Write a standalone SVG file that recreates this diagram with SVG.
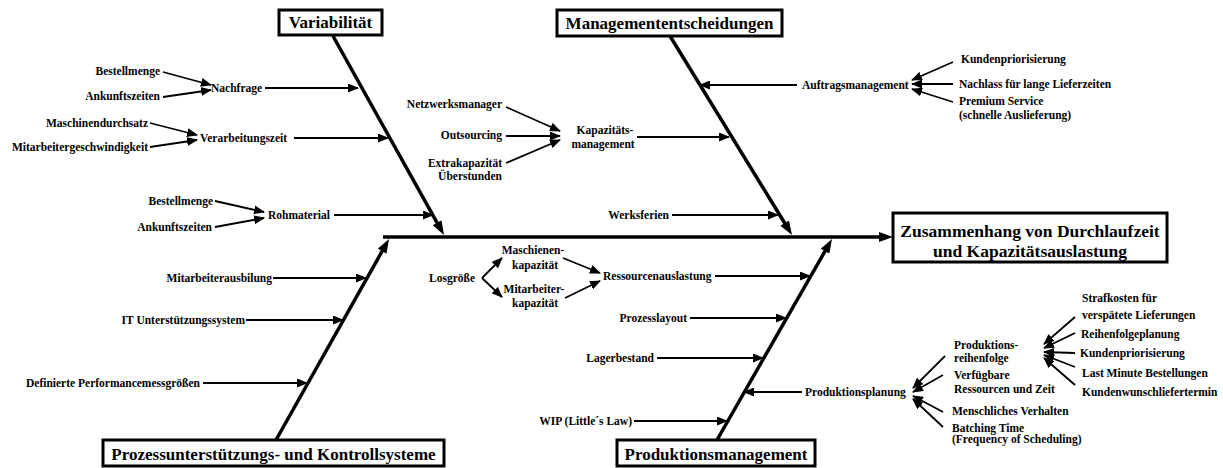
<svg xmlns="http://www.w3.org/2000/svg" width="1223" height="468" viewBox="0 0 1223 468" font-family="'Liberation Serif', 'Times New Roman', serif" font-weight="bold">
  <style>
    text { font-family: 'Liberation Serif', 'Times New Roman', serif; font-weight: bold; fill: #000; }
    .lbl { font-size: 11.5px; }
    .head { font-size: 17px; }
    .effect { font-size: 17.5px; }
    .box { fill: #fff; stroke: #000; stroke-width: 3; }
    .bone { stroke: #000; stroke-width: 3.5; fill: none; marker-end: url(#bigArrow); }
    .arr { stroke: #000; stroke-width: 1.8; fill: none; marker-end: url(#smallArrow); }
    .mid { text-anchor: middle; }
    .end { text-anchor: end; }
  </style>
  <defs>
    <marker id="bigArrow" viewBox="0 0 14 10" refX="4" refY="5" markerWidth="14" markerHeight="10" orient="auto" markerUnits="userSpaceOnUse">
      <path d="M0,0 L14,5 L0,10 z" fill="#000"/>
    </marker>
    <marker id="smallArrow" viewBox="0 0 11 9" refX="10" refY="4.5" markerWidth="11" markerHeight="9" orient="auto" markerUnits="userSpaceOnUse">
      <path d="M0,0 L11,4.5 L0,9 z" fill="#000"/>
    </marker>
  </defs>

  <rect x="0" y="0" width="1223" height="468" fill="#fff"/>

  <!-- spine and main bones -->
  <g id="connectors">
    <line class="bone" x1="383" y1="237" x2="883" y2="237"/>
    <line class="bone" x1="333" y1="36" x2="439.1" y2="226.3"/>
    <line class="bone" x1="670" y1="36" x2="786.8" y2="226.5"/>
    <line class="bone" x1="276" y1="440" x2="384.1" y2="247.7"/>
    <line class="bone" x1="717" y1="440" x2="827" y2="247.7"/>

    <!-- Variabilität branches -->
    <line class="arr" x1="265" y1="88" x2="358" y2="88"/>
    <line class="arr" x1="163" y1="72" x2="211" y2="85"/>
    <line class="arr" x1="163" y1="97" x2="211" y2="90"/>
    <line class="arr" x1="294" y1="138" x2="388" y2="138"/>
    <line class="arr" x1="150" y1="123" x2="197" y2="135"/>
    <line class="arr" x1="150" y1="147" x2="197" y2="140"/>
    <line class="arr" x1="334" y1="215" x2="433" y2="215"/>
    <line class="arr" x1="215" y1="201" x2="264" y2="212"/>
    <line class="arr" x1="215" y1="227" x2="264" y2="218"/>

    <!-- Managemententscheidungen branches -->
    <line class="arr" x1="797" y1="85" x2="700" y2="85"/>
    <line class="arr" x1="953" y1="62" x2="912" y2="80"/>
    <line class="arr" x1="953" y1="84" x2="912" y2="84"/>
    <line class="arr" x1="953" y1="102" x2="912" y2="89"/>
    <line class="arr" x1="637" y1="137" x2="729" y2="137"/>
    <line class="arr" x1="506" y1="107" x2="560" y2="131"/>
    <line class="arr" x1="506" y1="136" x2="560" y2="136"/>
    <line class="arr" x1="506" y1="163" x2="560" y2="140"/>
    <line class="arr" x1="672" y1="215" x2="778" y2="215"/>

    <!-- Prozessunterstützung branches -->
    <line class="arr" x1="273" y1="278" x2="366" y2="278"/>
    <line class="arr" x1="246" y1="320" x2="343" y2="320"/>
    <line class="arr" x1="203" y1="383" x2="307" y2="383"/>

    <!-- Produktionsmanagement branches -->
    <line class="arr" x1="715" y1="276" x2="810" y2="276"/>
    <line class="arr" x1="690" y1="318" x2="786" y2="318"/>
    <line class="arr" x1="657" y1="358" x2="763" y2="358"/>
    <line class="arr" x1="802" y1="392" x2="744" y2="392"/>
    <line class="arr" x1="634" y1="421" x2="727" y2="421"/>
    <line class="arr" x1="482" y1="278" x2="502" y2="258"/>
    <line class="arr" x1="482" y1="278" x2="502" y2="297"/>
    <line class="arr" x1="563" y1="258" x2="600" y2="273"/>
    <line class="arr" x1="565" y1="298" x2="600" y2="281"/>

    <!-- Produktionsplanung sub-branches -->
    <line class="arr" x1="945" y1="356" x2="913" y2="388"/>
    <line class="arr" x1="943" y1="375" x2="913" y2="392"/>
    <line class="arr" x1="943" y1="412" x2="913" y2="396"/>
    <line class="arr" x1="943" y1="427" x2="913" y2="399"/>

    <!-- Produktionsreihenfolge sub-branches -->
    <line class="arr" x1="1075" y1="317" x2="1044" y2="344"/>
    <line class="arr" x1="1075" y1="333" x2="1044" y2="348"/>
    <line class="arr" x1="1075" y1="353" x2="1044" y2="352"/>
    <line class="arr" x1="1075" y1="367" x2="1044" y2="355"/>
    <line class="arr" x1="1075" y1="385" x2="1044" y2="358"/>
  </g>

  <!-- effect -->
  <g id="effect">
    <rect class="box" x="893" y="213" width="274" height="49"/>
    <text class="effect mid" x="1030" y="237">Zusammenhang von Durchlaufzeit</text>
    <text class="effect mid" x="1030" y="257">und Kapazitätsauslastung</text>
  </g>

  <!-- category: Variabilität -->
  <g id="variabilitaet">
    <rect class="box" x="279" y="10" width="103" height="25"/>
    <text class="head mid" x="330.5" y="28">Variabilität</text>
    <text class="lbl" x="211" y="92">Nachfrage</text>
    <text class="lbl end" x="160" y="75">Bestellmenge</text>
    <text class="lbl end" x="160" y="100">Ankunftszeiten</text>
    <text class="lbl" x="200" y="142">Verarbeitungszeit</text>
    <text class="lbl end" x="148" y="127">Maschinendurchsatz</text>
    <text class="lbl end" x="148" y="151">Mitarbeitergeschwindigkeit</text>
    <text class="lbl" x="268" y="219">Rohmaterial</text>
    <text class="lbl end" x="213" y="205">Bestellmenge</text>
    <text class="lbl end" x="212" y="231">Ankunftszeiten</text>
  </g>

  <!-- category: Managemententscheidungen -->
  <g id="managemententscheidungen">
    <rect class="box" x="557" y="10" width="225" height="26"/>
    <text class="head mid" x="669.5" y="29">Managemententscheidungen</text>
    <text class="lbl" x="802" y="89">Auftragsmanagement</text>
    <text class="lbl" x="961" y="63">Kundenpriorisierung</text>
    <text class="lbl" x="959" y="88">Nachlass für lange Lieferzeiten</text>
    <text class="lbl" x="959" y="105">Premium Service</text>
    <text class="lbl" x="959" y="119">(schnelle Auslieferung)</text>
    <text class="lbl mid" x="605" y="134">Kapazitäts-</text>
    <text class="lbl mid" x="603" y="148">management</text>
    <text class="lbl end" x="502" y="108">Netzwerksmanager</text>
    <text class="lbl end" x="502" y="139">Outsourcing</text>
    <text class="lbl end" x="502" y="167">Extrakapazität</text>
    <text class="lbl end" x="502" y="180">Überstunden</text>
    <text class="lbl end" x="669" y="219">Werksferien</text>
  </g>

  <!-- category: Prozessunterstützungs- und Kontrollsysteme -->
  <g id="prozessunterstuetzung">
    <rect class="box" x="103" y="440" width="341" height="26"/>
    <text class="head mid" x="273.5" y="460">Prozessunterstützungs- und Kontrollsysteme</text>
    <text class="lbl end" x="272" y="282">Mitarbeiterausbilung</text>
    <text class="lbl end" x="245" y="324">IT Unterstützungssystem</text>
    <text class="lbl end" x="200" y="387">Definierte Performancemessgrößen</text>
  </g>

  <!-- category: Produktionsmanagement -->
  <g id="produktionsmanagement">
    <rect class="box" x="617" y="440" width="198" height="26"/>
    <text class="head mid" x="716" y="460">Produktionsmanagement</text>
    <text class="lbl" x="603" y="280">Ressourcenauslastung</text>
    <text class="lbl end" x="687" y="322">Prozesslayout</text>
    <text class="lbl end" x="654" y="362">Lagerbestand</text>
    <text class="lbl" x="805" y="396">Produktionsplanung</text>
    <text class="lbl end" x="632" y="425">WIP (Little´s Law)</text>
    <text class="lbl end" x="475" y="282">Losgröße</text>
    <text class="lbl mid" x="533" y="254">Maschienen-</text>
    <text class="lbl mid" x="535" y="269">kapazität</text>
    <text class="lbl mid" x="534" y="293">Mitarbeiter-</text>
    <text class="lbl mid" x="535" y="307">kapazität</text>
    <text class="lbl" x="954" y="349">Produktions-</text>
    <text class="lbl" x="954" y="362">reihenfolge</text>
    <text class="lbl" x="954" y="379">Verfügbare</text>
    <text class="lbl" x="954" y="393">Ressourcen und Zeit</text>
    <text class="lbl" x="952" y="415">Menschliches Verhalten</text>
    <text class="lbl" x="952" y="432">Batching Time</text>
    <text class="lbl" x="952" y="443">(Frequency of Scheduling)</text>
    <text class="lbl" x="1082" y="302">Strafkosten für</text>
    <text class="lbl" x="1082" y="319">verspätete Lieferungen</text>
    <text class="lbl" x="1081" y="338">Reihenfolgeplanung</text>
    <text class="lbl" x="1080" y="357">Kundenpriorisierung</text>
    <text class="lbl" x="1082" y="377">Last Minute Bestellungen</text>
    <text class="lbl" x="1082" y="396">Kundenwunschliefertermin</text>
  </g>
</svg>
